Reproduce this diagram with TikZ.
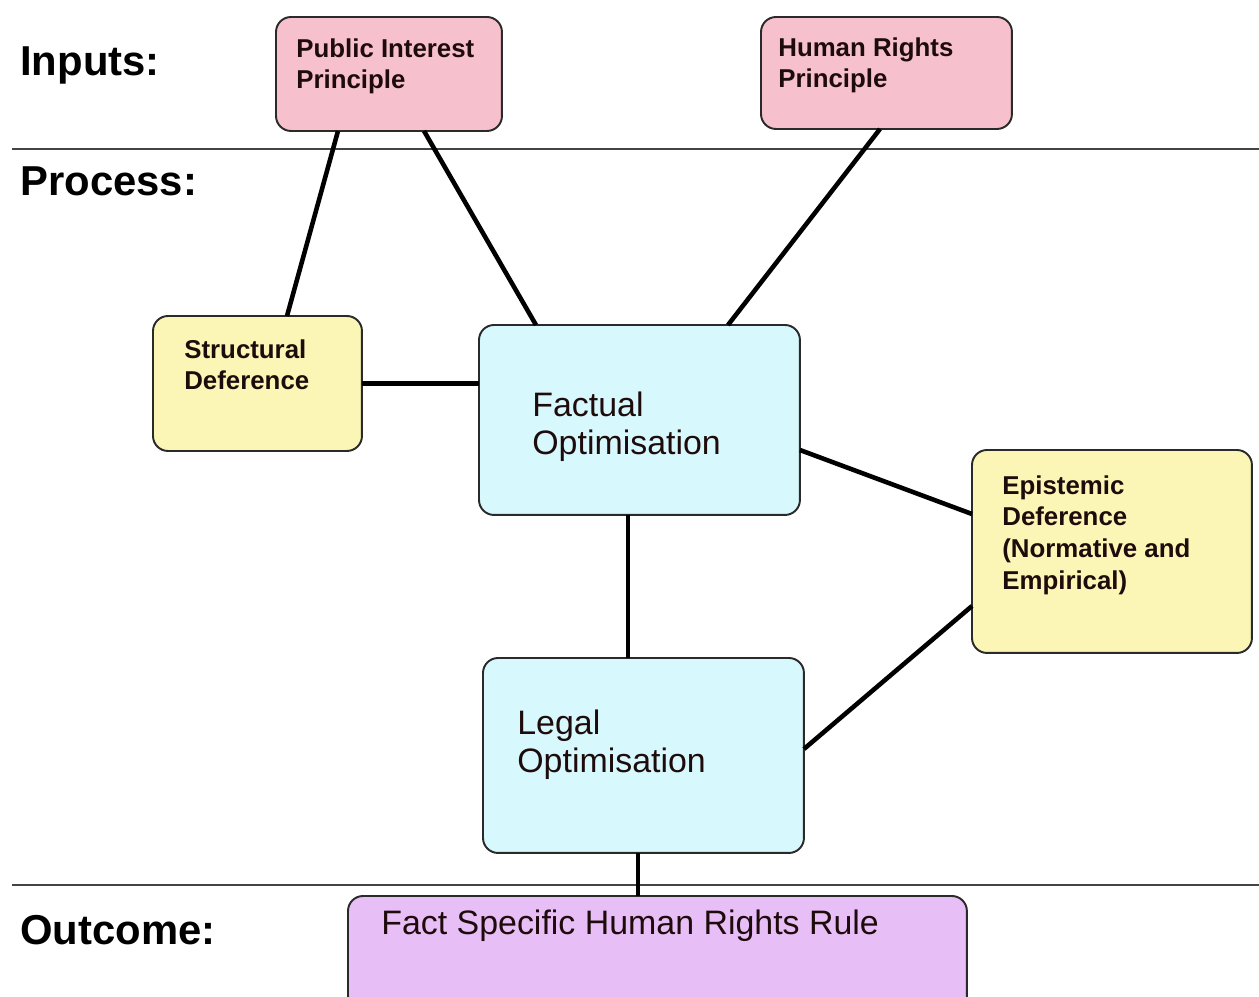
\documentclass[tikz,border=0pt]{standalone}
\usepackage{fontspec}
\setmainfont{Liberation Sans}
\usetikzlibrary{calc}
\definecolor{pinkfill}{HTML}{F6C1CC}
\definecolor{yellowfill}{HTML}{FBF6B5}
\definecolor{cyanfill}{HTML}{D7F8FC}
\definecolor{purplefill}{HTML}{E8BEF6}
\definecolor{boxline}{HTML}{2A2A2A}
\definecolor{boxtext}{HTML}{1E0C0C}
\definecolor{sepline}{HTML}{444444}
\begin{document}
\begin{tikzpicture}[x=0.02cm,y=-0.02cm,
  box/.style={draw=boxline, line width=1.1pt, rounded corners=0.3cm, anchor=north west, inner sep=0pt, outer sep=0pt},
  smalltext/.style={anchor=north west, inner sep=0pt, align=left, text=boxtext, font=\fontsize{14.7}{18.1}\selectfont\bfseries},
  bigtext/.style={anchor=north west, inner sep=0pt, align=left, text=boxtext, font=\fontsize{19.3}{21.5}\selectfont},
  stagetext/.style={anchor=north west, inner sep=0pt, align=left, text=black, font=\fontsize{23.8}{28}\selectfont\bfseries},
  conn/.style={line width=2.6pt, black},
  sep/.style={line width=1.1pt, sepline}]
\clip (0,0) rectangle (1259,997);
\fill[white] (0,0) rectangle (1259,997);

% separators
\coordinate (s1a) at (12,149);
\coordinate (s1b) at (1259,149);
\coordinate (s2a) at (12,885);
\coordinate (s2b) at (1259,885);
\draw[sep] (s1a) -- (s1b);
\draw[sep] (s2a) -- (s2b);

% stage labels
\node[stagetext] (inputs) at (20,46) {Inputs:};
\node[stagetext] (process) at (20,166) {Process:};
\node[stagetext] (outcome) at (20,915) {Outcome:};

% boxes
\node[box, fill=pinkfill, minimum width=4.52cm, minimum height=2.28cm] (pi) at (276,17) {};
\node[box, fill=pinkfill, minimum width=5.02cm, minimum height=2.24cm] (hr) at (761,17) {};
\node[box, fill=yellowfill, minimum width=4.18cm, minimum height=2.70cm] (sd) at (153,316) {};
\node[box, fill=cyanfill, minimum width=6.42cm, minimum height=3.80cm] (fo) at (479,325) {};
\node[box, fill=yellowfill, minimum width=5.60cm, minimum height=4.06cm] (ed) at (972,450) {};
\node[box, fill=cyanfill, minimum width=6.42cm, minimum height=3.90cm] (lo) at (483,658) {};
\node[box, fill=purplefill, minimum width=12.38cm, minimum height=2.30cm] (out) at (348,896) {};

% box texts
\node[smalltext] (pit) at (296,38) {Public Interest\\Principle};
\node[smalltext] (hrt) at (778,37) {Human Rights\\Principle};
\node[smalltext] (sdt) at (184,339) {Structural\\Deference};
\node[smalltext] (edt) at (1002,475) {Epistemic\\Deference\\(Normative and\\Empirical)};
\node[bigtext] (fot) at (532,392) {Factual\\Optimisation};
\node[bigtext] (lot) at (517,710) {Legal\\Optimisation};
\node[bigtext] (outt) at (381,910) {Fact Specific Human Rights Rule};

% connectors
\draw[conn] ($(pi.south west)+(62,0)$) -- ($(sd.north west)+(134,0)$);
\draw[conn] ($(pi.south west)+(148,0)$) -- ($(fo.north west)+(57,0)$);
\draw[conn] ($(hr.south west)+(119,0)$) -- ($(fo.north west)+(249,0)$);
\draw[conn] (sd.east) -- (sd.east -| fo.west);
\draw[conn] ($(fo.north east)+(0,125)$) -- ($(ed.north west)+(0,64)$);
\coordinate (folo) at ($(fo.south west)+(149,0)$);
\draw[conn] (folo) -- (folo |- lo.north);
\draw[conn] ($(ed.north west)+(0,156)$) -- ($(lo.north east)+(0,91)$);
\coordinate (loout) at ($(lo.south west)+(155,0)$);
\draw[conn] (loout) -- (loout |- out.north);
\end{tikzpicture}
\end{document}
